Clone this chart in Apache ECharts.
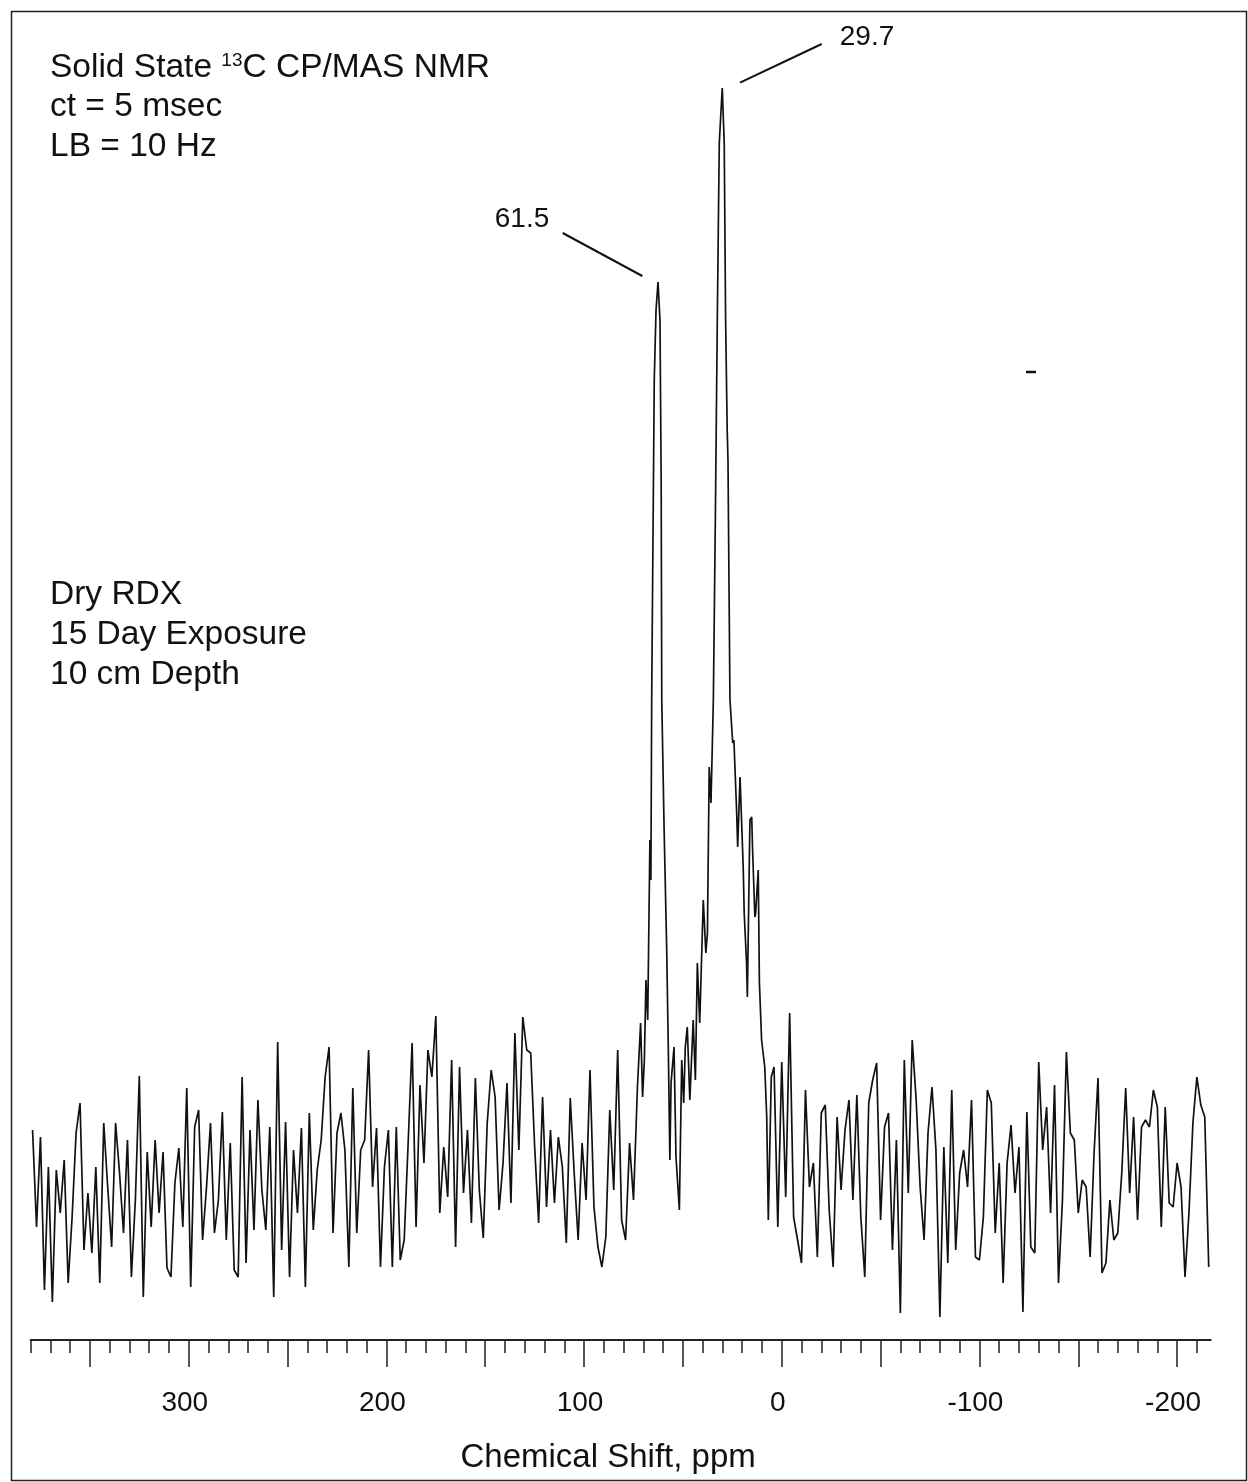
<!DOCTYPE html>
<html>
<head>
<meta charset="utf-8">
<script src="https://cdn.jsdelivr.net/npm/echarts@6/dist/echarts.min.js"></script>
<style>
html,body{margin:0;padding:0;background:#fff;}
#chart{width:1248px;height:1482px;}
</style>
</head>
<body>
<div id="chart"></div>
<script>
// Intensity readings (arbitrary units) of the spectrum.
// Left baseline: chemical shift 379 ppm down to 73 ppm, every 2 ppm
const leftNoise = [5.0,-4.7,4.3,-11,1.3,-12.2,1,-3.3,2,-10.3,-3.7,4.7,7.7,-7,-1.3,-7.3,1.3,-10.3,5.7,-0.7,
  -6.7,5.7,0.7,-5.3,4,-9.7,-2,10.4,-11.7,2.8,-4.7,4,-3.3,2.8,-8.8,-9.7,-0.3,3.2,-4.7,9.2,
  -10.7,5.3,7,-6,-0.7,5.7,-5.3,-2,6.8,-6,3.7,-9,-9.7,10.3,-8.3,5,-5,8,-1,-5,
  5.3,-11.7,13.8,-7,5.8,-9.7,3,-3.3,5.2,-10.7,6.7,-5,1,4,10.3,13.3,-5.3,4.7,6.7,3,
  -8.7,9.2,-5.3,3,4,13,-0.7,5.2,-8.7,1.3,5,-8.7,5.3,-8,-6,3.7,13.7,-4.7,9.5,1.7,
  13,10.3,16.4,-3.3,3.3,-1.7,12,-6.7,11.3,-1.3,5,-4.3,10.2,-1,-5.8,5.7,11,8.3,-3,1.7,
  9.7,-2.3,14.7,3,16.3,13,12.7,3.3,-4.3,8.3,-2.7,5,-2.3,4.3,1.3,-6.3,8.2,0.7,-6,3.7,
  -2,11,-2.7,-6.7,-8.7,-5.7,7,-1,13,-4,-6,3.7,-2,9.3];
const leftStartPpm = 379;

// Peak region (61.5 and 29.7 ppm resonances)
const peakPpm = [71.4,70.4,69.5,68.7,67.8,66.7,66.2,65.8,64.5,63.6,62.6,61.6,61,60.7,59.5,58.2,57.4,56.6,56,54.5,
  53.5,51.8,50.6,49.6,48.8,47.8,46.5,44.8,43.7,42.7,41.5,39.7,38.4,37.6,36.7,35.8,34.6,33.6,32.6,32.1,
  31.6,30.1,29.1,28.4,27.6,27.2,26.2,24.8,24.2,22.8,22.3,21.1,19.5,19,17.8,17.4,16.1,15.2,14.8,13.6,
  13.2,11.9,11.3,10.2,8.6,7.6,6.8,5.3,3.9];
const peakInt = [15.7,8.3,12,20,16,34,30,48,80,87,89.8,86,70,48,35,23,13.3,2,9.7,13.3,
  2.3,-3,12,7.7,13.3,15.3,8,16,10,21.7,15.7,28,22.7,24.7,41.3,37.7,48,66,86,95,
  103.7,109.2,103.7,86,75,72,48,43.7,44,36.7,33.3,40.3,31.3,26.7,21.7,18.3,36,36.3,33.3,26.3,
  26.7,31,19.7,14,11.3,6.3,-4,10.3,11.3];

// Right baseline: 2 ppm down to -216 ppm, every 2 ppm
const rightNoise = [-4.7,11.8,-1.7,16.7,-3.7,-6,-8.3,9,-0.7,1.7,-7.7,6.7,7.5,-3,-8.7,6.3,-1,5,8,-2,
  8.5,-3.7,-9.7,7.7,10,11.7,-4,5.3,6.7,-7,4,-13.3,12,-1.3,14,8,-0.7,-6,4.7,9.3,
  3,-13.7,3.3,-8.3,9,-7,0.7,3,-0.7,8,-7.7,-8,-3.7,9,
  7.7,-5.3,1.7,-10.3,1.7,5.5,-1.3,3.3,-13.2,6.8,-6.7,-7.3,11.8,3,7.3,-3.3,9.5,-10.3,-2,12.8,
  4.7,4,-3.3,0,-0.7,-7.7,2.7,10.2,-9.3,-8.3,-2,-6,-5.3,0.7,9.2,-1.3,6.3,-4,5.3,6,
  5.3,9,7.3,-4.7,7.3,-2.3,-2.7,1.7,-0.7,-9.7,-3.3,5.7,10.3,7.5,6.3,-8.7];
const rightStartPpm = 2;
const gridStepPpm = 2;

// Axis ticks and labels
const minorTicks = [380,370,360,350,340,330,320,310,300,290,280,270,260,250,240,230,220,210,200,190,180,170,160,150,140,130,120,110,100,90,80,70,60,50,40,30,20,10,0,-10,-20,-30,-40,-50,-60,-70,-80,-90,-100,-110,-120,-130,-140,-150,-160,-170,-180,-190,-200,-210];
const majorTicks = [350,300,250,200,150,100,50,0,-50,-100,-150,-200];
const tickLabels = [300,200,100,0,-100,-200];

const peakLabels = ['61.5','29.7'];
const infoLines = ['ct = 5 msec','LB = 10 Hz'];
const sampleLines = ['Dry RDX','15 Day Exposure','10 cm Depth'];

// build data
const data = [];
leftNoise.forEach((v,i)=>data.push([leftStartPpm - i*gridStepPpm, v]));
peakPpm.forEach((p,i)=>data.push([p, peakInt[i]]));
rightNoise.forEach((v,i)=>data.push([rightStartPpm - i*gridStepPpm, v]));

const FONT = '"Liberation Sans", Arial, Helvetica, sans-serif';
const chart = echarts.init(document.getElementById('chart'), null, {renderer:'canvas'});

function txt(t, x, y, size, align){
  return {type:'text', z:10, style:{text:t, x:x, y:y, fill:'#111', fontSize:size, fontFamily:FONT,
    textAlign:align||'left', textVerticalAlign:'middle', align:align||'left', verticalAlign:'middle'}};
}

const graphics = [
  {type:'rect', shape:{x:11.5, y:11.5, width:1235, height:1469}, style:{fill:'none', stroke:'#222', lineWidth:1.5}, silent:true},
  {type:'text', z:10, style:{
     text:'{n|Solid State }{s|13}{n|C CP/MAS NMR}', x:50, y:68, fill:'#111',
     textVerticalAlign:'middle', verticalAlign:'middle',
     rich:{ n:{fontSize:33.5, fontFamily:FONT, fill:'#111'}, s:{fontSize:19, fontFamily:FONT, fill:'#111', verticalAlign:'top'} }
  }},
  txt(infoLines[0], 50, 107, 33.5),
  txt(infoLines[1], 50, 147, 33.5),
  txt(sampleLines[0], 50, 595, 33.5),
  txt(sampleLines[1], 50, 635, 33.5),
  txt(sampleLines[2], 50, 675, 33.5),
  txt(peakLabels[0], 522, 219, 28, 'center'),
  txt(peakLabels[1], 867, 37, 28, 'center'),
  {type:'line', shape:{x1:562.7, y1:233, x2:642.3, y2:276}, style:{stroke:'#111', lineWidth:2}},
  {type:'line', shape:{x1:821.7, y1:44, x2:740, y2:82.7}, style:{stroke:'#111', lineWidth:2}},
  {type:'line', shape:{x1:1026, y1:372, x2:1036, y2:372}, style:{stroke:'#111', lineWidth:2.5}}
];

const baseX = {type:'value', min:-217, max:380, inverse:true, position:'bottom', splitLine:{show:false}};

chart.setOption({
  animation:false,
  backgroundColor:'#fff',
  grid:{left:30.6, right:37.3, top:40, bottom:142},
  xAxis:[
    Object.assign({}, baseX, {
      axisLine:{show:true, onZero:false, lineStyle:{color:'#222', width:2}},
      axisTick:{show:true, inside:false, length:13, customValues:minorTicks, lineStyle:{color:'#222', width:1.5}},
      axisLabel:{show:false},
      name:'Chemical Shift, ppm', nameLocation:'middle', nameGap:101,
      nameTextStyle:{fontSize:33, fontFamily:FONT, color:'#111', padding:[0,25,0,0]}
    }),
    Object.assign({}, baseX, {
      offset:0,
      axisLine:{show:false, onZero:false},
      axisTick:{show:true, inside:false, length:27, customValues:majorTicks, lineStyle:{color:'#222', width:1.5}},
      axisLabel:{show:true, customValues:tickLabels, margin:49, fontSize:28, fontFamily:FONT, color:'#111',
        formatter:v=>String(v), padding:[0,8,0,0]}
    })
  ],
  yAxis:{type:'value', min:-16, max:114, show:false, splitLine:{show:false}},
  series:[{
    type:'line', xAxisIndex:0, data:data, showSymbol:false, symbol:'none', smooth:false,
    lineStyle:{color:'#111', width:1.7}, z:3
  }],
  graphic:graphics
});
</script>
</body>
</html>
